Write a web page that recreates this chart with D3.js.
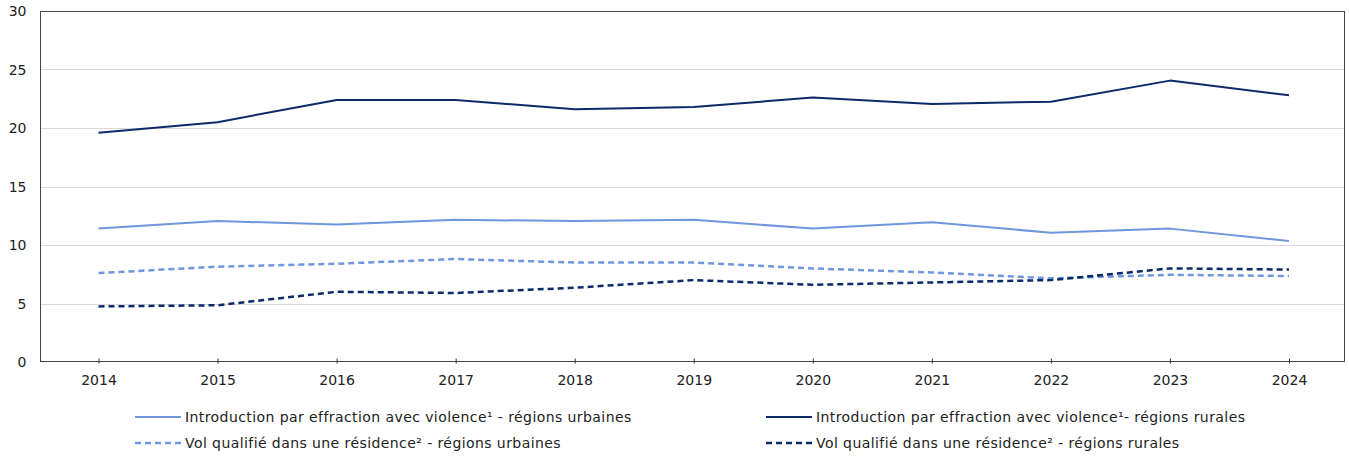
<!DOCTYPE html>
<html><head><meta charset="utf-8">
<script src="https://cdn.jsdelivr.net/npm/d3@7"></script>
<style>body{margin:0;background:#fff;}svg{display:block;font-family:"DejaVu Sans",Verdana,sans-serif;}</style>
</head><body>
<svg id="chart" width="1349" height="456"></svg>
<script>
const years = ["2014","2015","2016","2017","2018","2019","2020","2021","2022","2023","2024"];
const urbanViolence = [11.4,12.05,11.75,12.15,12.05,12.15,11.4,11.95,11.05,11.4,10.35];
const ruralViolence = [19.6,20.5,22.4,22.4,21.6,21.8,22.6,22.05,22.25,24.05,22.8];
const urbanRobbery = [7.6,8.15,8.4,8.8,8.5,8.5,8.0,7.65,7.15,7.45,7.35];
const ruralRobbery = [4.75,4.85,6.0,5.9,6.35,7.0,6.6,6.8,7.0,8.0,7.9];
const yTicks = [0,5,10,15,20,25,30];
const seriesNames = [
  "Introduction par effraction avec violence¹ - régions urbaines",
  "Introduction par effraction avec violence¹- régions rurales",
  "Vol qualifié dans une résidence² - régions urbaines",
  "Vol qualifié dans une résidence² - régions rurales"
];
const light = "#6f97de", dark = "#0c2a6a";
const series = [
  {name: seriesNames[0], values: urbanViolence, color: light, dash: null},
  {name: seriesNames[1], values: ruralViolence, color: dark, dash: null},
  {name: seriesNames[2], values: urbanRobbery, color: light, dash: "6,4"},
  {name: seriesNames[3], values: ruralRobbery, color: dark, dash: "6,4"}
];

const svg = d3.select("#chart");
const mLeft = 40, mRight = 1345, mTop = 11, mBottom = 362;
const x = d3.scalePoint().domain(years).range([98.5, 1289]);
const y = d3.scaleLinear().domain([0, 30]).range([mBottom, mTop]);

// gridlines
svg.append("g").selectAll("line").data(yTicks.filter(d => d > 0 && d < 30)).join("line")
  .attr("x1", mLeft).attr("x2", mRight)
  .attr("y1", d => Math.round(y(d)) + 0.5).attr("y2", d => Math.round(y(d)) + 0.5)
  .attr("stroke", "#d9d9d9").attr("stroke-width", 1);

// frame
svg.append("rect").attr("x", mLeft + 0.5).attr("y", mTop + 0.5)
  .attr("width", mRight - mLeft - 1).attr("height", mBottom - mTop - 1)
  .attr("fill", "none").attr("stroke", "#444").attr("stroke-width", 1);

// y axis labels
svg.append("g").selectAll("text").data(yTicks).join("text")
  .attr("x", 26.5).attr("y", d => y(d) + 5)
  .attr("text-anchor", "end").attr("font-size", 14).attr("fill", "#222")
  .text(d => d);

// x axis
const xAxis = d3.axisBottom(x).tickSize(3).tickPadding(11);
const gx = svg.append("g").attr("transform", `translate(0,${mBottom - 0.5})`).call(xAxis);
gx.select(".domain").remove();
gx.selectAll(".tick line").attr("stroke", "#333").attr("y1", -3).attr("y2", 2);
gx.selectAll(".tick text").attr("font-size", 14).attr("fill", "#222")
  .attr("font-family", "\"DejaVu Sans\",Verdana,sans-serif");

// lines
const line = d3.line().x((d, i) => x(years[i])).y(d => y(d));
svg.append("g").selectAll("path").data(series).join("path")
  .attr("d", d => line(d.values))
  .attr("fill", "none").attr("stroke", d => d.color)
  .attr("stroke-width", d => d.dash ? 2.5 : 2)
  .attr("stroke-dasharray", d => d.dash)
  .attr("stroke-linejoin", "round");

// legend
const legendPos = [[135, 417], [766, 417], [135, 443], [766, 443]];
const lg = svg.append("g").selectAll("g").data(series).join("g")
  .attr("transform", (d, i) => `translate(${legendPos[i][0]},${legendPos[i][1]})`);
lg.append("line").attr("x1", 0).attr("x2", 46).attr("y1", 0).attr("y2", 0)
  .attr("stroke", d => d.color).attr("stroke-width", d => d.dash ? 2.5 : 2)
  .attr("stroke-dasharray", d => d.dash);
lg.append("text").attr("x", 50).attr("y", 5).attr("font-size", 14)
  .attr("letter-spacing", 0.42).attr("fill", "#222")
  .text(d => d.name);
</script>
</body></html>
